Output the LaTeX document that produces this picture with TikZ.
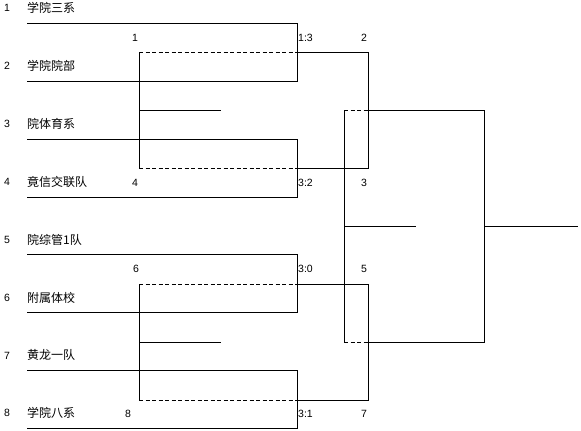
\documentclass[tikz,border=0pt]{standalone}
\usepackage{fontspec}
\setmainfont{Liberation Sans}
\newfontfamily\cjk{Noto Sans CJK SC}
\begin{document}
\begin{tikzpicture}[x=1pt,y=-1pt,
  ln/.style={line width=0.9pt},
  dl/.style={line width=0.9pt,dash pattern=on 4pt off 2.5pt},
  num/.style={inner sep=0pt,font=\fontsize{10.5}{11}\selectfont},
  score/.style={inner sep=0pt,anchor=west,font=\fontsize{10.5}{11}\selectfont},
  team/.style={inner sep=0pt,anchor=west,font=\cjk\fontsize{12}{12}\selectfont}]
\useasboundingbox (0,0) rectangle (581,431);
% seed numbers and team names
\foreach \i/\t in {1/学院三系,2/学院院部,3/院体育系,4/竟信交联队,5/院综管1队,6/附属体校,7/黄龙一队,8/学院八系}{
  \node[num] (s\i) at (7,{8+57.9*(\i-1)}) {\i};
  \node[team] (t\i) at (27,{8+57.9*(\i-1)}) {\t};
  \coordinate (a\i) at (27,{23.3+57.9*(\i-1)});
  \coordinate (b\i) at (297,{23.3+57.9*(\i-1)});
}
% first-round brackets
\draw[ln] (a1) -- (b1) -- (b2) -- (a2);
\draw[ln] (a3) -- (b3) -- (b4) -- (a4);
\draw[ln] (a5) -- (b5) -- (b6) -- (a6);
\draw[ln] (a7) -- (b7) -- (b8) -- (a8);
% second round (upper)
\coordinate (p1) at (139,52.3); \coordinate (q1) at (297,52.3); \coordinate (r1) at (368,52.3);
\coordinate (p2) at (139,168); \coordinate (q2) at (297,168); \coordinate (r2) at (368,168);
\coordinate (m1) at (139,110); \coordinate (n1) at (221,110);
\draw[dl] (p1) -- (q1);
\draw[dl] (p2) -- (q2);
\draw[ln] (q1) -- (r1) -- (r2) -- (q2);
\draw[ln] (p1) -- (p2);
\draw[ln] (m1) -- (n1);
% second round (lower)
\coordinate (p3) at (139,284.3); \coordinate (q3) at (297,284.3); \coordinate (r3) at (368,284.3);
\coordinate (p4) at (139,400); \coordinate (q4) at (297,400); \coordinate (r4) at (368,400);
\coordinate (m2) at (139,342.3); \coordinate (n2) at (221,342.3);
\draw[dl] (p3) -- (q3);
\draw[dl] (p4) -- (q4);
\draw[ln] (q3) -- (r3) -- (r4) -- (q4);
\draw[ln] (p3) -- (p4);
\draw[ln] (m2) -- (n2);
% final
\coordinate (f1) at (344,110); \coordinate (g1) at (368,110); \coordinate (h1) at (484,110);
\coordinate (f2) at (344,342.3); \coordinate (g2) at (368,342.3); \coordinate (h2) at (484,342.3);
\coordinate (fm) at (344,226); \coordinate (fn) at (416,226);
\coordinate (hm) at (484,226); \coordinate (hn) at (578,226);
\draw[dl] (f1) -- (g1);
\draw[dl] (f2) -- (g2);
\draw[ln] (g1) -- (h1) -- (h2) -- (g2);
\draw[ln] (f1) -- (f2);
\draw[ln] (fm) -- (fn);
\draw[ln] (hm) -- (hn);
% labels
\node[num] (l1) at (135,38) {1};
\node[score] (c1) at (298,38) {1:3};
\node[num] (l2) at (364,38) {2};
\node[num] (l4) at (135,183) {4};
\node[score] (c2) at (298,183) {3:2};
\node[num] (l3) at (364,183) {3};
\node[num] (l6) at (136,269) {6};
\node[score] (c3) at (298,269) {3:0};
\node[num] (l5) at (364,269) {5};
\node[num] (l8) at (128,414) {8};
\node[score] (c4) at (298,414) {3:1};
\node[num] (l7) at (364,414) {7};
\end{tikzpicture}
\end{document}
